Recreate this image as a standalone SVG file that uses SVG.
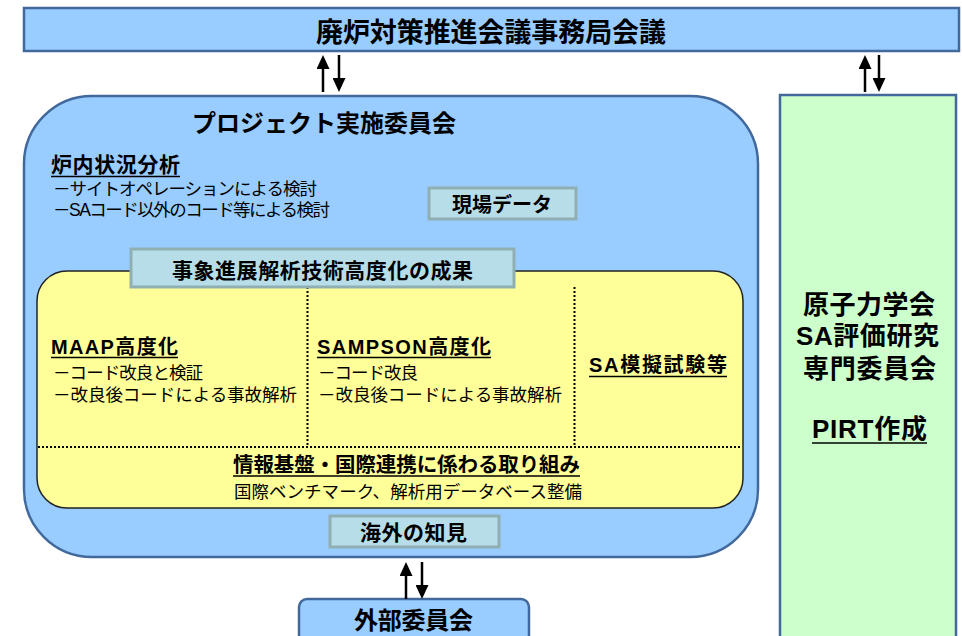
<svg xmlns="http://www.w3.org/2000/svg" width="962" height="636" viewBox="0 0 962 636">
<defs>
<style>
.t{font-family:"Liberation Sans","Noto Sans CJK JP",sans-serif;fill:#000}
.b{font-weight:bold}
.blue{fill:#99CCFF;stroke:#41699C;stroke-width:2.5}
.teal{fill:#B7DEE8;stroke:#8FAFB3;stroke-width:3}
.ul{stroke:#000;stroke-width:1.6}
.dot{stroke:#000;stroke-width:2;stroke-dasharray:2 2}
.arr{stroke:#000;stroke-width:2.5;fill:none;marker-end:url(#ah)}
</style>
<marker id="ah" markerUnits="userSpaceOnUse" markerWidth="14" markerHeight="13" viewBox="0 0 14 13" refX="2" refY="6.5" orient="auto">
<path d="M0,0 L14,6.5 L0,13 z" fill="#000"/>
</marker>
</defs>
<rect width="962" height="636" fill="#fff"/>

<g id="top-meeting">
<rect class="blue" x="24" y="8" width="935" height="43"/>
<text class="t b" x="316" y="42" font-size="27" textLength="350">廃炉対策推進会議事務局会議</text>
</g>

<g id="project-committee">
<rect class="blue" x="24" y="96" width="734" height="461" rx="68" ry="68"/>
<text class="t b" x="192" y="132" font-size="24" textLength="264">プロジェクト実施委員会</text>
<text class="t b" x="51" y="172" font-size="21" textLength="129">炉内状況分析</text>
<line class="ul" x1="51" y1="176.5" x2="180" y2="176.5"/>
<text class="t" x="53" y="195" font-size="17.5" textLength="264">－サイトオペレーションによる検討</text>
<text class="t" x="53" y="216" font-size="17.5" textLength="277">－SAコード以外のコード等による検討</text>
</g>

<g id="site-data">
<rect class="teal" x="429" y="188" width="147" height="31"/>
<text class="t b" x="452" y="212" font-size="20" textLength="100">現場データ</text>
</g>

<g id="results">
<rect x="37" y="271" width="706" height="237" rx="30" ry="30" fill="#FFFF99" stroke="#222" stroke-width="1.5"/>
<line class="dot" x1="307.5" y1="287" x2="307.5" y2="446"/>
<line class="dot" x1="574.5" y1="287" x2="574.5" y2="446"/>
<line class="dot" x1="38" y1="447" x2="742" y2="447"/>
<text class="t b" x="51" y="354" font-size="20" textLength="127">MAAP高度化</text>
<line class="ul" x1="51" y1="357.5" x2="178" y2="357.5"/>
<text class="t" x="53" y="379" font-size="17.5" textLength="150">－コード改良と検証</text>
<text class="t" x="53" y="401" font-size="17.5" textLength="244">－改良後コードによる事故解析</text>
<text class="t b" x="317" y="354" font-size="20" textLength="174">SAMPSON高度化</text>
<line class="ul" x1="317" y1="357.5" x2="491" y2="357.5"/>
<text class="t" x="318" y="379" font-size="17.5" textLength="100">－コード改良</text>
<text class="t" x="318" y="401" font-size="17.5" textLength="244">－改良後コードによる事故解析</text>
<text class="t b" x="589" y="372" font-size="20" textLength="138">SA模擬試験等</text>
<line class="ul" x1="589" y1="376.5" x2="727" y2="376.5"/>
<text class="t b" x="233" y="472" font-size="20.5" textLength="347">情報基盤・国際連携に係わる取り組み</text>
<line class="ul" x1="233" y1="476" x2="580" y2="476"/>
<text class="t" x="234" y="498" font-size="17.5" textLength="348">国際ベンチマーク、解析用データベース整備</text>
</g>

<g id="results-label">
<rect class="teal" x="131" y="249" width="383" height="38"/>
<text class="t b" x="172" y="278" font-size="21" textLength="301">事象進展解析技術高度化の成果</text>
</g>

<g id="overseas">
<rect class="teal" x="330" y="516" width="169" height="31"/>
<text class="t b" x="360" y="540" font-size="21" textLength="107">海外の知見</text>
</g>

<g id="external-committee">
<rect class="blue" x="299" y="599" width="230" height="50" rx="8" ry="8"/>
<text class="t b" x="354" y="629" font-size="24" textLength="119">外部委員会</text>
</g>

<g id="aesj-committee">
<rect x="780" y="95" width="176" height="560" fill="#CCFFCC" stroke="#41699C" stroke-width="2.5"/>
<text class="t b" x="803" y="314" font-size="26" textLength="132">原子力学会</text>
<text class="t b" x="796" y="345" font-size="26" textLength="143">SA評価研究</text>
<text class="t b" x="803" y="378" font-size="26" textLength="133">専門委員会</text>
<text class="t b" x="812" y="438" font-size="26" textLength="115">PIRT作成</text>
<line class="ul" x1="812" y1="443" x2="927" y2="443"/>
</g>

<g id="connectors">
<line class="arr" x1="323" y1="92" x2="323" y2="67"/>
<line class="arr" x1="339" y1="55" x2="339" y2="80"/>
<line class="arr" x1="865" y1="92" x2="865" y2="67"/>
<line class="arr" x1="879" y1="55" x2="879" y2="80"/>
<line class="arr" x1="406" y1="599" x2="406" y2="574"/>
<line class="arr" x1="422" y1="562" x2="422" y2="587"/>
</g>
</svg>
